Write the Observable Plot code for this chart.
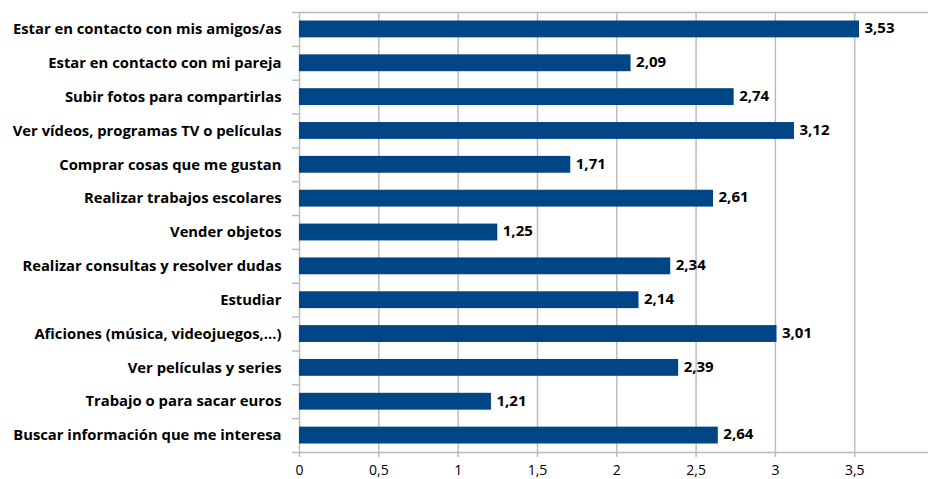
<!DOCTYPE html>
<html>
<head>
<meta charset="utf-8">
<script src="https://cdn.jsdelivr.net/npm/d3@7"></script>
<script src="https://cdn.jsdelivr.net/npm/@observablehq/plot@0.6"></script>
<style>
  html, body { margin: 0; padding: 0; background: #fff; }
  #chart svg { display: block; }
</style>
</head>
<body>
<div id="chart"></div>
<script>
// Usos de Internet: puntuación media por actividad
const categories = [
  "Estar en contacto con mis amigos/as",
  "Estar en contacto con mi pareja",
  "Subir fotos para compartirlas",
  "Ver vídeos, programas TV o películas",
  "Comprar cosas que me gustan",
  "Realizar trabajos escolares",
  "Vender objetos",
  "Realizar consultas y resolver dudas",
  "Estudiar",
  "Aficiones (música, videojuegos,…)",
  "Ver películas y series",
  "Trabajo o para sacar euros",
  "Buscar información que me interesa"
];
const values = [3.53, 2.09, 2.74, 3.12, 1.71, 2.61, 1.25, 2.34, 2.14, 3.01, 2.39, 1.21, 2.64];
const xTicks = [0, 0.5, 1, 1.5, 2, 2.5, 3, 3.5];

const rows = categories.map((name, i) => ({name, i, value: values[i]}));
const n = categories.length;

const es = d3.formatLocale({decimal: ",", thousands: ".", grouping: [3], currency: ["", " €"]});
const fmtValue = es.format(".2f");
const fmtTick = d => String(d).replace(".", ",");

const blue = "#004586";
const grid = "#b9b9b9";

const chart = Plot.plot({
  width: 928,
  height: 479,
  marginLeft: 299,
  marginRight: 0,
  marginTop: 12,
  marginBottom: 27,
  style: {fontFamily: "'Open Sans', sans-serif", background: "#fff", color: "#000"},
  x: {domain: [0, 3.965]},
  y: {domain: [n, 0]},
  marks: [
    // vertical gridlines
    Plot.ruleX(xTicks, {y1: 0, y2: n, stroke: grid, strokeWidth: 1.4}),
    // top border
    Plot.ruleY([0], {stroke: grid, strokeWidth: 1.4}),
    // bars
    Plot.rectX(rows, {
      x1: 0, x2: "value",
      y1: "i", y2: d => d.i + 1,
      insetTop: 8.5, insetBottom: 8.5,
      fill: blue
    }),
    // value labels
    Plot.text(rows, {
      x: "value", y: d => d.i + 0.5,
      text: d => fmtValue(d.value),
      textAnchor: "start", dx: 5, dy: -1,
      fontSize: 15, fontWeight: "bold", fill: "#000"
    }),
    // bottom axis line
    Plot.ruleY([n], {stroke: grid, strokeWidth: 1.4}),
    // category tick marks at band boundaries
    Plot.axisY({ticks: d3.range(n + 1), tickSize: 7, tickFormat: () => "", stroke: grid, strokeWidth: 1.4, label: null}),
    // category labels
    Plot.axisY({
      ticks: d3.range(n).map(i => i + 0.5),
      tickSize: 0, tickPadding: 18,
      tickFormat: d => categories[Math.floor(d)],
      fontSize: 14.8, fontWeight: "bold", fill: "#000", label: null
    }),
    // x tick marks
    Plot.axisX({ticks: xTicks, tickSize: 5, tickFormat: () => "", stroke: grid, strokeWidth: 1.4, label: null}),
    // x tick labels
    Plot.axisX({ticks: xTicks, tickSize: 0, tickPadding: 13, tickFormat: fmtTick, fontSize: 14, fill: "#000", label: null})
  ]
});

document.getElementById("chart").appendChild(chart);
</script>
</body>
</html>
